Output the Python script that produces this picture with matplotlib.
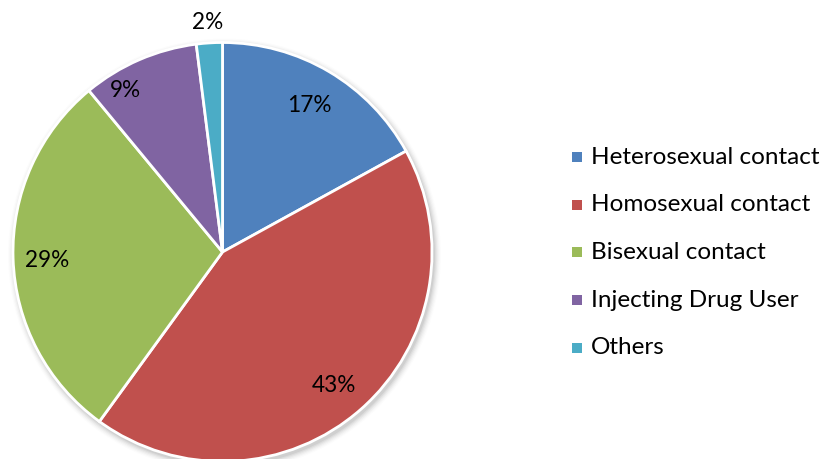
import matplotlib
matplotlib.use("Agg")
import matplotlib.pyplot as plt
import numpy as np
from matplotlib.patches import Rectangle, Circle

categories = ["Heterosexual contact", "Homosexual contact", "Bisexual contact",
              "Injecting Drug User", "Others"]
values = [17, 43, 29, 9, 2]
colors = ["#4F81BD", "#C0504D", "#9BBB59", "#8064A2", "#4BACC6"]
label_r = [0.81, 0.83, 0.84, 0.90, 1.10]
label_da = [0, -1.5, 1.0, 7.5, 0]

plt.rcParams['font.family'] = ['Lato', 'DejaVu Sans']

W, H = 825, 459
fig = plt.figure(figsize=(W / 100, H / 100), dpi=100)
ax = fig.add_axes([0, 0, 1, 1])
ax.set_xlim(0, W)
ax.set_ylim(0, H)
ax.axis('off')

cx, cy, R = 222.5, 207.0, 209.5

# soft shadow
for k, a in enumerate(np.linspace(0.10, 0.02, 6)):
    ax.add_patch(Circle((cx + 2, cy - 3), R + 1 + k * 1.2, color='black', alpha=a * 0.5,
                        lw=0, zorder=0))

wedges, _ = ax.pie(values, colors=colors, startangle=90, counterclock=False,
                   center=(cx, cy), radius=R,
                   wedgeprops=dict(edgecolor='white', linewidth=2))
ax.set_xlim(0, W)
ax.set_ylim(0, H)
ax.set_aspect('equal')

total = sum(values)
start = 90.0
for v, lr, da in zip(values, label_r, label_da):
    ang = start - v / total * 360 / 2 + da
    start -= v / total * 360
    x = cx + R * lr * np.cos(np.radians(ang))
    y = cy + R * lr * np.sin(np.radians(ang))
    ax.text(x, y, f"{v}%", ha='center', va='center', fontsize=16.3, color='black')

# legend
y0 = H - 157
dy = 47.7
for i, (lab, c) in enumerate(zip(categories, colors)):
    y = y0 - i * dy
    ax.add_patch(Rectangle((572, y - 5), 10, 10, color=c, lw=0))
    ax.text(591, y, lab, ha='left', va='center', fontsize=17.5, color='black')

fig.savefig("out.png", dpi=100)
